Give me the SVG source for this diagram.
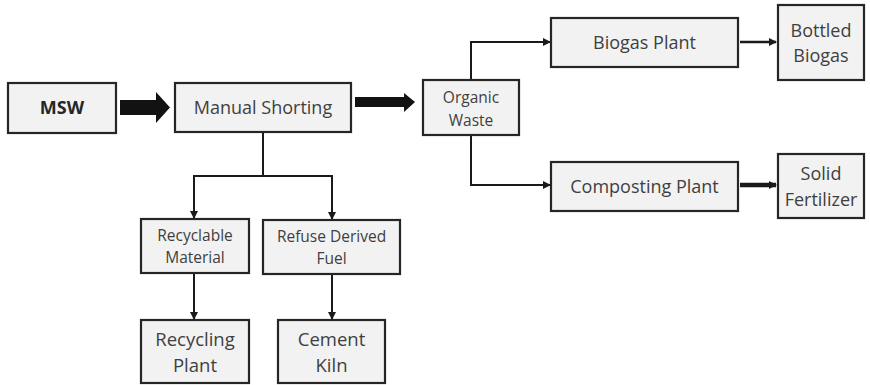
<svg xmlns="http://www.w3.org/2000/svg" width="870" height="385" viewBox="0 0 870 385">
  <style>
    .box { fill: #f2f2f2; stroke: #262626; stroke-width: 2.2; }
    .t { font-family: "Open Sans", "Liberation Sans", sans-serif; fill: #3f3f3f; text-anchor: middle; }
    .big { font-size: 18px; }
    .huge { font-size: 18.5px; }
    .small { font-size: 15.5px; }
    .line { fill: none; stroke: #1a1a1a; stroke-width: 2; }
  </style>
  <defs>
    <marker id="ah" markerWidth="8" markerHeight="8" refX="7" refY="4" orient="auto" markerUnits="userSpaceOnUse">
      <path d="M0,0 L8,4 L0,8 Z" fill="#1a1a1a"/>
    </marker>
  </defs>
  <rect width="870" height="385" fill="#ffffff"/>

  <g id="connectors">
    <!-- block arrows -->
    <path d="M120,100 H156 V92 L170,107.5 L156,123 V115 H120 Z" fill="#121212"/>
    <path d="M355,97 H404 V93 L415,102 L404,112 V107 H355 Z" fill="#121212"/>
    <!-- organic waste split -->
    <path class="line" d="M471,80 V42 H550" marker-end="url(#ah)"/>
    <path class="line" d="M471,135 V185 H550" marker-end="url(#ah)"/>
    <path class="line" style="stroke-width:2.6" d="M740,42 H776" marker-end="url(#ah)"/>
    <path class="line" style="stroke-width:4.5" d="M740,185 H776" marker-end="url(#ah)"/>
    <!-- manual sorting split -->
    <path class="line" d="M263,133 V176"/>
    <path class="line" d="M194,176 H332"/>
    <path class="line" d="M194,175 V218" marker-end="url(#ah)"/>
    <path class="line" d="M332,175 V219" marker-end="url(#ah)"/>
    <path class="line" d="M194,273 V319" marker-end="url(#ah)"/>
    <path class="line" d="M332,274 V319" marker-end="url(#ah)"/>
  </g>

  <g id="msw">
    <rect class="box" x="8" y="83" width="108" height="50"/>
    <text class="t" x="62" y="114" style="font-weight:bold;fill:#262626;font-size:18px">MSW</text>
  </g>
  <g id="manual-shorting">
    <rect class="box" x="175" y="83" width="176" height="49"/>
    <text class="t big" x="263" y="114">Manual Shorting</text>
  </g>
  <g id="organic-waste">
    <rect class="box" x="423" y="80" width="96" height="55"/>
    <text class="t small" x="471" y="103">Organic</text>
    <text class="t small" x="471" y="126">Waste</text>
  </g>
  <g id="biogas-plant">
    <rect class="box" x="551" y="18" width="187" height="49"/>
    <text class="t big" x="644.5" y="49">Biogas Plant</text>
  </g>
  <g id="bottled-biogas">
    <rect class="box" x="778" y="5" width="86" height="75"/>
    <text class="t big" x="821" y="37">Bottled</text>
    <text class="t big" x="821" y="62">Biogas</text>
  </g>
  <g id="composting-plant">
    <rect class="box" x="551" y="162" width="187" height="49"/>
    <text class="t big" x="644.5" y="193">Composting Plant</text>
  </g>
  <g id="solid-fertilizer">
    <rect class="box" x="778" y="154" width="86" height="64"/>
    <text class="t big" x="821" y="180">Solid</text>
    <text class="t big" x="821" y="206">Fertilizer</text>
  </g>
  <g id="recyclable-material">
    <rect class="box" x="141" y="219" width="108" height="54"/>
    <text class="t small" x="195" y="241">Recyclable</text>
    <text class="t small" x="195" y="263">Material</text>
  </g>
  <g id="refuse-derived-fuel">
    <rect class="box" x="263" y="220" width="137" height="54"/>
    <text class="t small" x="331.5" y="242">Refuse  Derived</text>
    <text class="t small" x="331.5" y="264">Fuel</text>
  </g>
  <g id="recycling-plant">
    <rect class="box" x="141" y="320" width="108" height="63"/>
    <text class="t huge" x="195" y="346">Recycling</text>
    <text class="t huge" x="195" y="372">Plant</text>
  </g>
  <g id="cement-kiln">
    <rect class="box" x="278" y="320" width="107" height="63"/>
    <text class="t huge" x="331.5" y="346">Cement</text>
    <text class="t huge" x="331.5" y="372">Kiln</text>
  </g>
</svg>
